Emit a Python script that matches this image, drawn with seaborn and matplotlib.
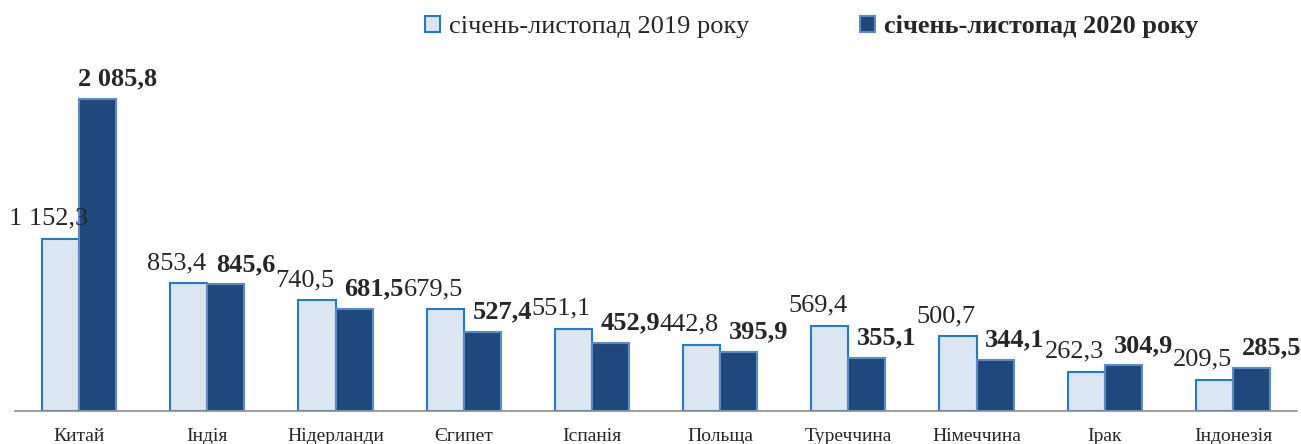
import matplotlib
matplotlib.use("Agg")
import matplotlib.pyplot as plt
from matplotlib.patches import Patch
import seaborn as sns
import pandas as pd

# --------------------------------------------------
# Data
# --------------------------------------------------
countries = ["Китай", "Індія", "Нідерланди", "Єгипет", "Іспанія",
             "Польща", "Туреччина", "Німеччина", "Ірак", "Індонезія"]
values_2019 = [1152.3, 853.4, 740.5, 679.5, 551.1, 442.8, 569.4, 500.7, 262.3, 209.5]
values_2020 = [2085.8, 845.6, 681.5, 527.4, 452.9, 395.9, 355.1, 344.1, 304.9, 285.5]
series = ["січень-листопад 2019 року", "січень-листопад 2020 року"]

df = pd.DataFrame({
    "country": countries * 2,
    "period": [series[0]] * len(countries) + [series[1]] * len(countries),
    "value": values_2019 + values_2020,
})

fill_colors = ["#DCE6F2", "#1F497D"]
edge_colors = ["#1F7BD0", "#5B8AC6"]


def fmt(v):
    whole, frac = f"{v:.1f}".split(".")
    whole = f"{int(whole):,}".replace(",", " ")
    return f"{whole},{frac}"


# --------------------------------------------------
# Plot
# --------------------------------------------------
sns.set_style("white")
plt.rcParams["font.family"] = ["Liberation Serif", "DejaVu Serif"]

fig = plt.figure(figsize=(13.01, 4.44), dpi=100)
ax = fig.add_axes([15 / 1301, 33 / 444, 1282 / 1301, 351 / 444])

sns.barplot(data=df, x="country", y="value", hue="period", order=countries,
            hue_order=series, palette=fill_colors, width=0.58, ax=ax,
            legend=False, saturation=1)

for i, cont in enumerate(ax.containers):
    for bar in cont:
        bar.set_edgecolor(edge_colors[i])
        bar.set_linewidth(1.5)
    offs = (-12, 20) if i == 0 else (20, 20)
    weight = "normal" if i == 0 else "bold"
    for bar in cont:
        h = bar.get_height()
        ax.annotate(fmt(h), (bar.get_x() + bar.get_width() / 2, h),
                    xytext=offs, textcoords="offset pixels",
                    ha="center", va="center", fontsize=19, fontweight=weight)

ax.set_xlim(-0.5, len(countries) - 0.5)
ax.set_ylim(0, 2346)
ax.set_xlabel("")
ax.set_ylabel("")
ax.set_yticks([])
for s in ["left", "right", "top"]:
    ax.spines[s].set_visible(False)
ax.spines["bottom"].set_color("#8C8C8C")
ax.spines["bottom"].set_linewidth(1.2)

ax.set_xticks(range(len(countries)))
ax.set_xticklabels(countries, fontsize=14)
ax.tick_params(axis="x", which="major", length=0, pad=12)
ax.set_xticks([k - 0.5 for k in range(len(countries) + 1)], minor=True)
ax.tick_params(axis="x", which="minor", length=6, color="#8C8C8C", width=1.2)

handles = [Patch(facecolor=fill_colors[k], edgecolor=edge_colors[k], linewidth=1.5)
           for k in range(2)]
leg = fig.legend(handles, series, loc="center", bbox_to_anchor=(0.624, 1 - 27 / 444),
                 ncol=2, frameon=False, fontsize=19, handlelength=0.55,
                 handleheight=0.55, handletextpad=0.35, columnspacing=4.2)
leg.get_texts()[1].set_fontweight("bold")

fig.savefig("out.png", dpi=100)
plt.close(fig)
